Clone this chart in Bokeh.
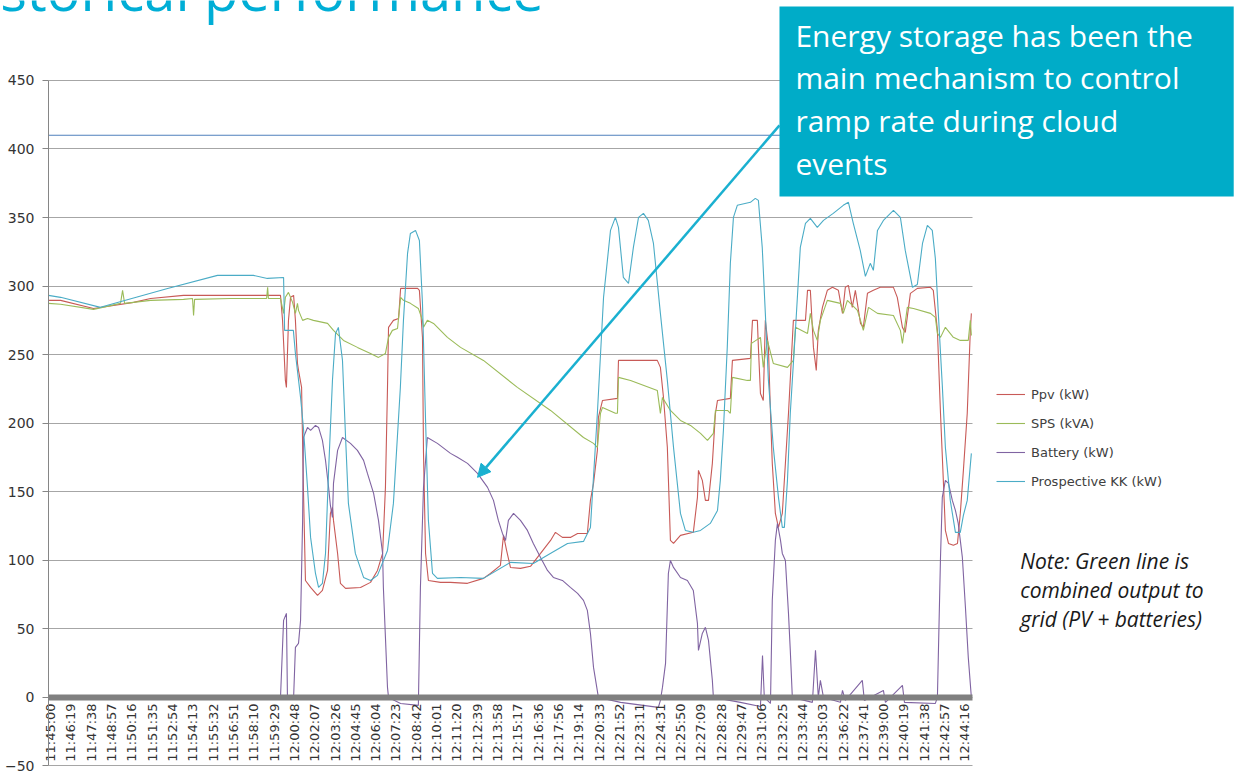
import math
from bokeh.plotting import figure
from bokeh.models import Range1d, FixedTicker, BoxAnnotation, Label, Arrow, NormalHead
from bokeh.embed import file_html
from bokeh.resources import INLINE

# ---------------- data ----------------
time_labels = ["11:45:00", "11:46:19", "11:47:38", "11:48:57", "11:50:16", "11:51:35", "11:52:54",
               "11:54:13", "11:55:32", "11:56:51", "11:58:10", "11:59:29", "12:00:48", "12:02:07",
               "12:03:26", "12:04:45", "12:06:04", "12:07:23", "12:08:42", "12:10:01", "12:11:20",
               "12:12:39", "12:13:58", "12:15:17", "12:16:36", "12:17:56", "12:19:14", "12:20:33",
               "12:21:52", "12:23:11", "12:24:31", "12:25:50", "12:27:09", "12:28:28", "12:29:47",
               "12:31:06", "12:32:25", "12:33:44", "12:35:03", "12:36:22", "12:37:41", "12:39:00",
               "12:40:19", "12:41:38", "12:42:57", "12:44:16"]
label_step_s = 79  # seconds between labelled categories
label_pos = [i * label_step_s for i in range(len(time_labels))]

y_ticks = [-50, 0, 50, 100, 150, 200, 250, 300, 350, 400, 450]
limit_kw = 410

# seconds after 11:45:00
ppv_t = [-8, 39, 167, 323, 389, 517, 894, 902, 913, 917,
         925, 933, 945, 952, 960, 964, 976, 983, 991, 1011,
         1038, 1057, 1077, 1088, 1096, 1100, 1116, 1127, 1147, 1205,
         1244, 1271, 1291, 1302, 1310, 1314, 1333, 1353, 1361, 1427,
         1434, 1446, 1450, 1458, 1469, 1516, 1555, 1621, 1683, 1710,
         1749, 1761, 1773, 1788, 1827, 1866, 1905, 1944, 1963, 1990,
         2021, 2049, 2087, 2099, 2111, 2126, 2130, 2146, 2204, 2208,
         2359, 2371, 2383, 2398, 2410, 2422, 2449, 2499, 2515, 2519,
         2534, 2546, 2558, 2573, 2585, 2593, 2643, 2651, 2721, 2729,
         2748, 2752, 2760, 2771, 2779, 2791, 2799, 2806, 2818, 2830,
         2845, 2857, 2869, 2888, 2935, 2943, 2954, 2966, 2977, 2985,
         3001, 3020, 3040, 3063, 3079, 3090, 3102, 3117, 3129, 3149,
         3160, 3176, 3199, 3226, 3277, 3292, 3312, 3323, 3343, 3370,
         3421, 3432, 3448, 3460, 3471, 3479, 3491, 3510, 3526, 3537,
         3549, 3564, 3576, 3580]
ppv_kw = [289.6, 289.6, 283.7, 288.1, 291.0, 293.2, 293.2, 275.0, 231.2, 226.1,
          275.0, 291.8, 293.2, 275.0, 243.6, 238.5, 226.1, 153.2, 85.3, 80.2,
          74.4, 78.0, 92.6, 134.2, 138.6, 129.1, 105.0, 83.2, 79.5, 80.2,
          83.9, 92.6, 105.0, 153.2, 226.1, 269.9, 275.0, 276.4, 298.3, 298.3,
          296.9, 262.6, 178.0, 105.0, 85.3, 83.9, 83.9, 83.2, 86.8, 90.4,
          96.3, 118.2, 107.2, 94.8, 94.1, 95.6, 105.0, 114.5, 120.4, 116.7,
          116.7, 119.6, 119.6, 143.7, 156.1, 180.2, 204.2, 216.6, 218.1, 245.8,
          245.8, 240.7, 218.8, 182.4, 114.5, 112.3, 118.2, 120.4, 145.9, 165.6,
          158.3, 143.7, 143.7, 170.7, 207.2, 216.6, 218.1, 245.8, 247.3, 275.0,
          275.0, 255.3, 221.7, 216.6, 275.0, 255.3, 207.2, 170.7, 134.2, 124.0,
          134.2, 170.7, 207.2, 275.0, 275.0, 296.9, 296.9, 255.3, 238.5, 267.7,
          284.5, 296.9, 299.1, 296.9, 280.1, 299.1, 300.5, 284.5, 296.9, 272.8,
          269.9, 294.7, 296.9, 299.1, 299.1, 291.8, 269.9, 266.2, 294.7, 298.3,
          299.1, 296.9, 267.7, 207.2, 158.3, 121.8, 112.3, 110.9, 112.3, 134.2,
          165.6, 207.2, 267.7, 280.1]

sps_t = [-8, 39, 167, 272, 280, 288, 389, 517, 552, 556,
         560, 700, 840, 844, 847, 894, 906, 913, 925, 941,
         952, 960, 964, 980, 999, 1022, 1077, 1100, 1139, 1193,
         1244, 1275, 1302, 1314, 1329, 1349, 1361, 1372, 1399, 1430,
         1446, 1450, 1465, 1489, 1543, 1594, 1683, 1815, 1944, 2072,
         2111, 2126, 2138, 2146, 2196, 2204, 2208, 2255, 2359, 2371,
         2379, 2410, 2449, 2488, 2527, 2554, 2577, 2585, 2632, 2643,
         2651, 2709, 2721, 2725, 2760, 2771, 2787, 2810, 2865, 2888,
         2896, 2943, 2954, 2966, 2981, 2993, 3020, 3071, 3082, 3098,
         3137, 3149, 3160, 3180, 3215, 3277, 3304, 3312, 3331, 3355,
         3421, 3440, 3448, 3460, 3479, 3510, 3537, 3568, 3576, 3580]
sps_kva = [287.4, 286.7, 283.0, 287.4, 296.9, 287.4, 289.6, 290.3, 291.0, 278.6,
           290.3, 291.0, 291.0, 299.1, 291.0, 291.0, 280.1, 291.8, 295.4, 288.1,
           280.1, 287.4, 282.3, 275.0, 276.4, 275.0, 272.8, 267.7, 260.4, 255.3,
           250.9, 248.0, 250.9, 262.6, 267.7, 269.1, 291.8, 289.6, 287.4, 283.7,
           275.0, 269.9, 275.0, 272.8, 262.6, 255.3, 245.8, 226.1, 209.3, 189.6,
           185.3, 182.4, 207.2, 211.5, 207.2, 207.2, 233.4, 231.2, 223.9, 207.2,
           218.8, 209.3, 202.0, 198.4, 192.6, 187.5, 192.6, 209.3, 209.3, 207.2,
           233.4, 231.2, 231.2, 258.2, 262.6, 240.7, 260.4, 243.6, 240.7, 245.8,
           269.9, 265.5, 280.1, 267.7, 260.4, 275.0, 289.6, 287.4, 280.1, 289.6,
           282.3, 275.0, 267.7, 284.5, 280.1, 278.6, 267.7, 258.2, 284.5, 283.7,
           280.1, 277.2, 265.5, 262.6, 269.9, 262.6, 260.4, 260.4, 275.0, 264.0]

bat_t = [-8, 894, 906, 917, 921, 945, 952, 964, 972, 980,
         983, 999, 1011, 1030, 1042, 1057, 1069, 1081, 1088, 1096,
         1100, 1116, 1135, 1166, 1193, 1217, 1232, 1256, 1275, 1291,
         1294, 1302, 1310, 1314, 1361, 1430, 1438, 1450, 1465, 1504,
         1555, 1582, 1621, 1660, 1699, 1722, 1741, 1757, 1769, 1780,
         1800, 1827, 1854, 1877, 1905, 1932, 1955, 1990, 2021, 2049,
         2072, 2087, 2099, 2111, 2130, 2216, 2363, 2371, 2379, 2391,
         2402, 2410, 2422, 2449, 2476, 2499, 2515, 2519, 2534, 2546,
         2558, 2573, 2577, 2682, 2760, 2768, 2775, 2799, 2806, 2818,
         2826, 2838, 2845, 2857, 2869, 2876, 2884, 2962, 2974, 2985,
         2993, 3005, 3071, 3079, 3090, 3156, 3164, 3238, 3246, 3312,
         3320, 3440, 3448, 3460, 3467, 3479, 3491, 3506, 3518, 3529,
         3545, 3557, 3568, 3580]
bat_kw = [0, 0, 56.2, 61.3, 0, 0, 36.5, 39.4, 56.2, 129.1,
          189.6, 196.9, 194.8, 198.4, 196.9, 187.5, 172.9, 153.2, 140.0, 131.3,
          156.1, 180.2, 189.6, 185.3, 180.2, 172.9, 163.4, 148.8, 129.1, 105.0,
          80.2, 43.8, 7.3, 0, -4.4, -5.8, 80.2, 153.2, 189.6, 185.3,
          178.0, 175.1, 170.7, 163.4, 153.2, 143.7, 129.1, 119.6, 114.5, 129.1,
          134.2, 129.1, 121.8, 112.3, 102.1, 92.6, 87.5, 85.3, 80.2, 75.9,
          70.8, 63.5, 46.7, 21.9, 0, -3.6, -7.3, -2.2, 7.3, 24.8,
          90.4, 99.9, 94.8, 87.5, 85.3, 78.0, 54.0, 34.3, 46.7, 51.1,
          41.6, 12.4, 0, -3.6, -6.6, 30.6, 0, -4.4, 70.8, 114.5,
          126.9, 114.5, 105.0, 99.9, 61.3, 34.3, 0, -3.6, 34.3, 0,
          12.4, 0, -3.6, 5.1, -2.2, 12.4, -2.2, 5.1, -3.6, 8.8,
          -3.6, -4.4, 0, 102.1, 145.9, 158.3, 156.1, 143.7, 136.4, 126.9,
          102.1, 65.6, 29.2, 0]

kk_t = [-8, 39, 194, 455, 649, 789, 843, 906, 910, 944,
        952, 972, 983, 999, 1011, 1030, 1042, 1057, 1069, 1081,
        1096, 1108, 1119, 1135, 1147, 1158, 1185, 1217, 1244, 1271,
        1310, 1333, 1360, 1372, 1388, 1399, 1419, 1434, 1446, 1458,
        1469, 1485, 1504, 1594, 1683, 1788, 1877, 1943, 2010, 2072,
        2099, 2126, 2150, 2177, 2196, 2208, 2227, 2247, 2266, 2286,
        2305, 2324, 2344, 2371, 2398, 2422, 2449, 2468, 2499, 2527,
        2565, 2593, 2604, 2616, 2631, 2643, 2655, 2670, 2721, 2740,
        2752, 2767, 2779, 2791, 2810, 2830, 2845, 2853, 2865, 2876,
        2896, 2915, 2935, 2954, 2981, 3005, 3043, 3082, 3102, 3121,
        3148, 3168, 3187, 3199, 3215, 3238, 3277, 3304, 3323, 3351,
        3370, 3390, 3409, 3428, 3440, 3452, 3467, 3479, 3498, 3518,
        3537, 3549, 3564, 3580]
kk_kw = [293.2, 291.8, 284.5, 298.3, 307.8, 307.8, 305.6, 306.3, 267.7, 267.7,
         250.9, 218.8, 196.9, 153.2, 116.7, 90.4, 80.2, 83.2, 105.0, 165.6,
         231.2, 265.5, 269.9, 245.8, 189.6, 141.5, 105.0, 87.5, 85.3, 89.0,
         107.2, 141.5, 226.1, 275.0, 323.9, 338.4, 340.6, 333.3, 287.4, 202.0,
         129.1, 90.4, 86.8, 87.5, 86.8, 98.5, 97.7, 105.0, 112.3, 113.8,
         124.0, 207.2, 291.8, 340.6, 350.1, 342.8, 306.3, 302.0, 328.2, 350.1,
         353.0, 347.9, 331.1, 280.1, 231.2, 182.4, 134.2, 121.8, 120.4, 121.8,
         126.9, 136.4, 158.3, 194.8, 255.3, 316.6, 350.1, 358.9, 361.1, 364.0,
         362.5, 328.2, 280.1, 231.2, 182.4, 145.9, 124.0, 124.0, 158.3, 207.2,
         267.7, 328.2, 345.7, 349.4, 342.8, 347.9, 353.0, 358.9, 361.1, 345.7,
         326.0, 307.1, 316.6, 311.5, 340.6, 347.9, 355.2, 350.1, 326.0, 299.1,
         301.2, 331.1, 344.3, 340.6, 320.2, 278.6, 227.6, 182.4, 143.7, 120.4,
         120.4, 132.8, 143.7, 178.0]

assert len(ppv_t) == len(ppv_kw)
assert len(sps_t) == len(sps_kva)
assert len(bat_t) == len(bat_kw)
assert len(kk_t) == len(kk_kw)

title_text = "storical performance"
callout_lines = ["Energy storage has been the", "main mechanism to control",
                 "ramp rate during cloud", "events"]
note_lines = ["Note: Green line is", "combined output to", "grid (PV + batteries)"]

# ---------------- figure ----------------
# data extent of the chart window (seconds, kW)
t_lo, t_hi = -8, 3584
v_lo, v_hi = -50, 450

# the frame covers the whole canvas so the slide texts around the chart are not clipped;
# the axes sit at fixed locations and carry bounds equal to the chart window
p = figure(width=1238, height=773,
           x_range=Range1d(-194.6, 4618.6), y_range=Range1d(-55.5, 508.3),
           output_backend="svg", toolbar_location=None,
           min_border=0, min_border_left=0, min_border_right=0,
           min_border_top=0, min_border_bottom=0)
p.background_fill_color = "white"
p.border_fill_color = "white"
p.outline_line_color = None

# y axis
yax = p.yaxis[0]
yax.fixed_location = t_lo
yax.bounds = (v_lo, v_hi)
yax.ticker = FixedTicker(ticks=y_ticks)
yax.axis_line_color = "#868686"
yax.major_tick_line_color = "#868686"
yax.major_tick_out = 6
yax.major_tick_in = 0
yax.minor_tick_line_color = None
yax.major_label_standoff = 8
yax.major_label_text_font = "DejaVu Sans"
yax.major_label_text_font_size = "14px"
yax.major_label_text_color = "#333333"

p.ygrid.ticker = FixedTicker(ticks=y_ticks)
p.ygrid.bounds = (v_lo, v_hi)
p.ygrid.cross_bounds = (t_lo, t_hi)
p.ygrid.grid_line_color = "#a6a6a6"
p.ygrid.grid_line_width = 1
p.xgrid.visible = False

# x axis crossing at 0
xax = p.xaxis[0]
xax.fixed_location = 0
xax.bounds = (t_lo, t_hi)
xax.ticker = FixedTicker(ticks=label_pos)
xax.major_label_overrides = {pos: lab for pos, lab in zip(label_pos, time_labels)}
xax.major_label_orientation = math.pi / 2
xax.axis_line_color = "#808080"
xax.axis_line_width = 6
xax.major_tick_line_color = None
xax.minor_tick_line_color = None
xax.major_tick_out = 0
xax.major_tick_in = 0
xax.major_label_standoff = 6
xax.major_label_text_font = "DejaVu Sans"
xax.major_label_text_font_size = "13px"
xax.major_label_text_color = "#333333"

# limit line (410 kW) across the chart window
p.line([t_lo, t_hi], [limit_kw, limit_kw], line_color="#4f81bd", line_width=1.2)

# series
p.line(ppv_t, ppv_kw, line_color="#c85a57", line_width=1.1, legend_label="Ppv (kW)")
p.line(sps_t, sps_kva, line_color="#9bbb59", line_width=1.1, legend_label="SPS (kVA)")
p.line(bat_t, bat_kw, line_color="#8064a2", line_width=1.1, legend_label="Battery (kW)")
p.line(kk_t, kk_kw, line_color="#4bacc6", line_width=1.1, legend_label="Prospective KK (kW)")

lg = p.legend[0]
lg.location = (996, 282)
lg.padding = 0
lg.margin = 0
lg.spacing = 9
lg.glyph_width = 29
lg.glyph_height = 20
lg.label_height = 20
lg.label_standoff = 6
lg.border_line_color = None
lg.background_fill_alpha = 0
lg.label_text_font = "DejaVu Sans"
lg.label_text_font_size = "13px"
lg.label_text_color = "#404040"

# callout box
teal = "#00acc8"
p.add_layout(BoxAnnotation(left=2834, right=4600, bottom=365.4, top=504,
                           fill_color=teal, fill_alpha=1.0, line_color=None))
for txt, yv in zip(callout_lines, [482.5, 451.9, 420.5, 389.1]):
    p.add_layout(Label(x=2896, y=yv, text=txt, text_color="white", text_font="Open Sans",
                       text_font_size="30px", text_baseline="alphabetic"))

# note
for txt, yv in zip(note_lines, [99.5, 78.3, 57.2]):
    p.add_layout(Label(x=3770, y=yv, text=txt, text_color="#1a1a1a", text_font="Open Sans",
                       text_font_style="italic", text_font_size="21px", text_baseline="alphabetic"))

# title (cropped slide heading)
p.add_layout(Label(x=-196, y=516.8, text=title_text, text_color="#00aed6", text_font="Open Sans",
                   text_font_size="56px", text_baseline="alphabetic"))

# arrow
arrow_c = "#1ab0d0"
p.add_layout(Arrow(end=NormalHead(size=13, fill_color=arrow_c, line_color=arrow_c),
                   x_start=2834, y_start=417.2, x_end=1660, y_end=160.5,
                   line_color=arrow_c, line_width=2.5))

open("out.html", "w").write(file_html(p, INLINE))
